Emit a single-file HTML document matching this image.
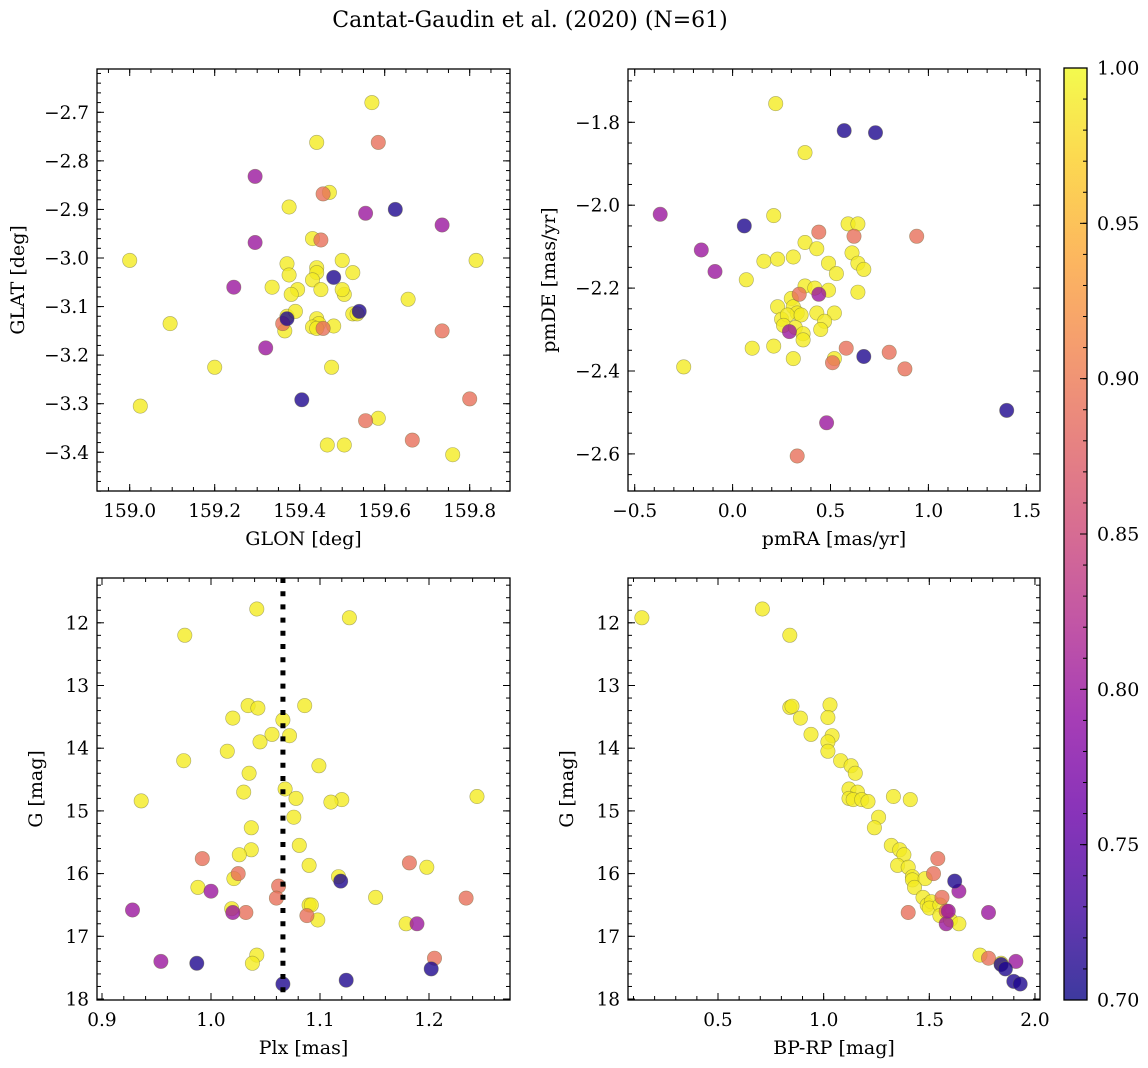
<!DOCTYPE html>
<html><head><meta charset="utf-8">
<style>
html,body{margin:0;padding:0;background:#fff;}
svg{display:block;font-family:"DejaVu Serif","Liberation Serif",serif;}
</style></head>
<body>
<svg id="chart" width="1148" height="1068" viewBox="0 0 1148 1068" xmlns="http://www.w3.org/2000/svg">
<text x="530" y="27" font-size="22" text-anchor="middle">Cantat-Gaudin et al. (2020) (N=61)</text>
</svg>
<script>
// ---- Panel 1: GLON / GLAT ----
const p1Lon = [159.57,159.44,159.47,159.375,159.43,159.00,159.815,159.37,159.44,159.50,159.375,159.44,159.43,159.525,159.335,159.395,159.38,159.45,159.505,159.50,159.655,159.095,159.37,159.39,159.525,159.535,159.44,159.445,159.43,159.44,159.48,159.365,159.20,159.475,159.025,159.585,159.465,159.505,159.76,
 159.585,159.455,159.45,159.36,159.455,159.735,159.80,159.555,159.665,
 159.295,159.295,159.555,159.735,159.245,159.32,
 159.625,159.48,159.54,159.37,159.405];
const p1Lat = [-2.68,-2.762,-2.865,-2.895,-2.96,-3.005,-3.005,-3.012,-3.02,-3.005,-3.035,-3.03,-3.045,-3.03,-3.06,-3.065,-3.075,-3.065,-3.075,-3.065,-3.085,-3.135,-3.12,-3.11,-3.115,-3.115,-3.125,-3.135,-3.142,-3.145,-3.14,-3.15,-3.225,-3.225,-3.305,-3.33,-3.385,-3.385,-3.405,
 -2.762,-2.868,-2.963,-3.135,-3.145,-3.15,-3.29,-3.335,-3.375,
 -2.832,-2.968,-2.908,-2.932,-3.06,-3.185,
 -2.90,-3.04,-3.11,-3.125,-3.292];
const p1Prob = [0.99,0.99,0.99,0.99,0.99,0.99,0.99,0.99,0.99,0.99,0.99,0.99,0.99,0.99,0.99,0.99,0.99,0.99,0.99,0.99,0.99,0.99,0.99,0.99,0.99,0.99,0.99,0.99,0.99,0.99,0.99,0.99,0.99,0.99,0.99,0.99,0.99,0.99,0.99,
 0.89,0.89,0.89,0.89,0.89,0.89,0.89,0.89,0.89,
 0.80,0.80,0.80,0.80,0.80,0.80,
 0.71,0.71,0.71,0.71,0.71];
// ---- Panel 2: pmRA / pmDE ----
const p2Pmra = [0.22,0.37,0.21,0.59,0.64,0.37,0.43,0.16,0.23,0.31,0.61,0.64,0.67,0.49,0.53,0.07,0.37,0.42,0.30,0.49,0.64,0.23,0.31,0.33,0.43,0.52,0.25,0.28,0.35,0.47,0.26,0.32,0.36,0.36,0.45,0.10,0.21,0.31,0.52,-0.25,
 0.34,0.44,0.62,0.94,0.58,0.80,0.88,0.51,0.33,
 -0.37,-0.16,-0.09,0.29,0.44,0.48,
 0.57,0.73,0.06,0.67,1.40];
const p2Pmde = [-1.755,-1.873,-2.025,-2.045,-2.045,-2.09,-2.105,-2.135,-2.13,-2.125,-2.115,-2.14,-2.155,-2.14,-2.165,-2.18,-2.195,-2.2,-2.225,-2.205,-2.21,-2.245,-2.245,-2.26,-2.26,-2.26,-2.275,-2.265,-2.265,-2.28,-2.29,-2.295,-2.31,-2.325,-2.3,-2.345,-2.34,-2.37,-2.37,-2.39,
 -2.215,-2.065,-2.075,-2.075,-2.345,-2.355,-2.395,-2.38,-2.605,
 -2.022,-2.108,-2.16,-2.305,-2.215,-2.525,
 -1.82,-1.825,-2.05,-2.365,-2.495];
const p2Prob = [0.99,0.99,0.99,0.99,0.99,0.99,0.99,0.99,0.99,0.99,0.99,0.99,0.99,0.99,0.99,0.99,0.99,0.99,0.99,0.99,0.99,0.99,0.99,0.99,0.99,0.99,0.99,0.99,0.99,0.99,0.99,0.99,0.99,0.99,0.99,0.99,0.99,0.99,0.99,0.99,
 0.89,0.89,0.89,0.89,0.89,0.89,0.89,0.89,0.89,
 0.80,0.80,0.80,0.80,0.80,0.80,
 0.71,0.71,0.71,0.71,0.71];
// ---- Panel 3: Plx / G ----
const p3Plx = [1.042,1.127,0.976,1.034,1.043,1.086,1.020,1.066,1.072,1.045,1.056,1.015,0.975,1.099,1.035,0.936,1.244,1.068,1.030,1.120,1.110,1.078,1.076,1.037,1.037,1.026,1.081,1.090,0.988,1.151,1.117,1.021,1.198,1.179,1.019,1.090,1.092,1.098,1.042,1.038,
 0.992,1.182,1.025,1.062,1.060,1.234,1.032,1.088,1.205,
 0.928,1.000,1.020,1.189,0.954,
 1.119,0.987,1.124,1.202,1.066];
const p3G = [11.78,11.92,12.2,13.32,13.36,13.32,13.52,13.55,13.8,13.9,13.78,14.05,14.2,14.28,14.4,14.84,14.77,14.65,14.7,14.82,14.86,14.8,15.1,15.27,15.62,15.7,15.55,15.87,16.22,16.38,16.05,16.08,15.9,16.8,16.56,16.5,16.5,16.74,17.3,17.43,
 15.76,15.83,16.0,16.2,16.39,16.39,16.62,16.67,17.35,
 16.58,16.28,16.62,16.8,17.4,
 16.12,17.43,17.7,17.52,17.76];
const p3Prob = [0.99,0.99,0.99,0.99,0.99,0.99,0.99,0.99,0.99,0.99,0.99,0.99,0.99,0.99,0.99,0.99,0.99,0.99,0.99,0.99,0.99,0.99,0.99,0.99,0.99,0.99,0.99,0.99,0.99,0.99,0.99,0.99,0.99,0.99,0.99,0.99,0.99,0.99,0.99,0.99,
 0.89,0.89,0.89,0.89,0.89,0.89,0.89,0.89,0.89,
 0.80,0.80,0.80,0.80,0.80,
 0.71,0.71,0.71,0.71,0.71];
const p3PlxLine = [1.066];
// ---- Panel 4: BP-RP / G ----
const p4Color = [0.14,0.71,0.84,0.84,0.85,0.89,1.03,1.02,0.94,1.04,1.02,1.02,1.08,1.13,1.15,1.12,1.16,1.12,1.14,1.18,1.21,1.33,1.41,1.26,1.24,1.32,1.36,1.38,1.35,1.40,1.42,1.42,1.48,1.43,1.47,1.49,1.51,1.50,1.55,1.55,1.60,1.64,1.74,1.84,
 1.54,1.52,1.40,1.56,1.78,1.58,
 1.64,1.58,1.78,1.59,1.91,
 1.62,1.84,1.86,1.90,1.93];
const p4G = [11.92,11.78,12.2,13.35,13.33,13.52,13.31,13.51,13.78,13.8,13.9,14.05,14.2,14.28,14.4,14.65,14.7,14.8,14.82,14.82,14.85,14.77,14.82,15.1,15.27,15.55,15.62,15.7,15.87,15.9,16.05,16.1,16.08,16.22,16.38,16.5,16.45,16.55,16.5,16.67,16.74,16.8,17.3,17.43,
 15.76,16.0,16.62,16.38,17.35,16.6,
 16.28,16.8,16.62,16.6,17.4,
 16.12,17.45,17.52,17.72,17.76];
const p4Prob = [0.99,0.99,0.99,0.99,0.99,0.99,0.99,0.99,0.99,0.99,0.99,0.99,0.99,0.99,0.99,0.99,0.99,0.99,0.99,0.99,0.99,0.99,0.99,0.99,0.99,0.99,0.99,0.99,0.99,0.99,0.99,0.99,0.99,0.99,0.99,0.99,0.99,0.99,0.99,0.99,0.99,0.99,0.99,0.99,
 0.89,0.89,0.89,0.89,0.89,0.89,
 0.80,0.80,0.80,0.80,0.80,
 0.71,0.71,0.71,0.71,0.71];
// ---- Colorbar ----
const cbarTicks = [0.70,0.75,0.80,0.85,0.90,0.95,1.00];
const cbarRange = [0.70,1.00];

const NS = "http://www.w3.org/2000/svg";
const svg = document.getElementById('chart');
function mk(tag, attrs, parent){
  const e = document.createElementNS(NS, tag);
  for (const k in attrs) e.setAttribute(k, attrs[k]);
  (parent||svg).appendChild(e);
  return e;
}
const plasmaStops = [[0,'#0d0887'],[0.1,'#41049d'],[0.2,'#6a00a8'],[0.3,'#8f0da4'],[0.4,'#b12a90'],[0.5,'#cc4778'],[0.6,'#e16462'],[0.7,'#f2844b'],[0.8,'#fca636'],[0.9,'#fcce25'],[1,'#f0f921']];
function hex2rgb(h){return [parseInt(h.substr(1,2),16),parseInt(h.substr(3,2),16),parseInt(h.substr(5,2),16)];}
function plasma(t){
  t=Math.max(0,Math.min(1,t));
  for(let i=1;i<plasmaStops.length;i++){
    if(t<=plasmaStops[i][0]){
      const a=plasmaStops[i-1],b=plasmaStops[i];
      const f=(t-a[0])/(b[0]-a[0]);
      const ca=hex2rgb(a[1]),cb=hex2rgb(b[1]);
      return 'rgb('+ca.map((v,j)=>Math.round(v+(cb[j]-v)*f)).join(',')+')';
    }
  }
  return plasmaStops[plasmaStops.length-1][1];
}
function norm(p){return (p-cbarRange[0])/(cbarRange[1]-cbarRange[0]);}
function fmt(v,d){return v.toFixed(d).replace('-','\u2212');}

function panel(cfg){
  const g = mk('g',{});
  
  
  const L=cfg.box[0],T=cfg.box[1],R=cfg.box[2],B=cfg.box[3];
  const sx = v => cfg.px0 + (v-cfg.x0)*cfg.pxs;
  const sy = v => cfg.py0 + (v-cfg.y0)*cfg.pys;
  const clip = mk('clipPath',{id:cfg.name+'-clip'},g);
  mk('rect',{x:L,y:T,width:R-L,height:B-T},clip);
  const marks = mk('g',{'clip-path':'url(#'+cfg.name+'-clip)'},g);
  
  
  for(let i=0;i<cfg.xs.length;i++){
    const c = mk('circle',{cx:sx(cfg.xs[i]).toFixed(1),cy:sy(cfg.ys[i]).toFixed(1),r:7.2,fill:plasma(norm(cfg.ps[i])),'fill-opacity':0.8,stroke:'#6b6b3a','stroke-opacity':0.55,'stroke-width':0.6},marks);
    
    
  }
  if(cfg.vline){
    for(const v of cfg.vline){
      const ln = mk('line',{x1:sx(v),x2:sx(v),y1:T,y2:B,stroke:'#000','stroke-width':5,'stroke-dasharray':'5,8.2'},g);
      
      
    }
  }
  const tg = mk('g',{stroke:'#000','stroke-width':1},g);
  function ticksX(step,len,labels,dec){
    const start=Math.ceil((cfg.xmin)/step-1e-6)*step;
    for(let v=start; v<=cfg.xmax+1e-9; v+=step){
      const x=sx(v);
      if(x<L-0.5||x>R+0.5) continue;
      mk('line',{x1:x,x2:x,y1:B,y2:B-len},tg);
      mk('line',{x1:x,x2:x,y1:T,y2:T+len},tg);
      if(labels){
        const t=mk('text',{x:x,y:B+26,'font-size':18.5,'text-anchor':'middle',stroke:'none'},g);
        t.textContent=fmt(Math.round(v/step)*step,dec);
        
        
      }
    }
  }
  function ticksY(step,len,labels,dec){
    const lo=Math.min(cfg.ymin,cfg.ymax),hi=Math.max(cfg.ymin,cfg.ymax);
    const start=Math.ceil(lo/step-1e-6)*step;
    for(let v=start; v<=hi+1e-9; v+=step){
      const y=sy(v);
      if(y<T-0.5||y>B+0.5) continue;
      mk('line',{x1:L,x2:L+len,y1:y,y2:y},tg);
      mk('line',{x1:R,x2:R-len,y1:y,y2:y},tg);
      if(labels){
        const t=mk('text',{x:L-8,y:y+6.5,'font-size':18.5,'text-anchor':'end',stroke:'none'},g);
        t.textContent=fmt(Math.round(v/step)*step,dec);
        
        
      }
    }
  }
  ticksX(cfg.xminor,4,false,0); ticksX(cfg.xmajor,7,true,cfg.xdec);
  ticksY(cfg.yminor,4,false,0); ticksY(cfg.ymajor,7,true,cfg.ydec);
  const fr = mk('rect',{x:L,y:T,width:R-L,height:B-T,fill:'none',stroke:'#000','stroke-width':1.3},g);
  
  
  const xl = mk('text',{x:(L+R)/2,y:B+54,'font-size':19,'text-anchor':'middle'},g);
  xl.textContent = cfg.xlabel;
  
  
  const yx=L-cfg.ylabOff, ymid=(T+B)/2;
  const yl = mk('text',{x:yx,y:ymid,'font-size':19,'text-anchor':'middle',transform:'rotate(-90 '+yx+' '+ymid+')'},g);
  yl.textContent = cfg.ylabel;
  
  
}

panel({name:'glon-glat-panel',box:[97,69,510,491],xs:p1Lon,ys:p1Lat,ps:p1Prob,
  x0:159.0,px0:129.7,pxs:425,y0:-2.7,py0:112.3,pys:-485.7,
  xmin:158.92,xmax:159.9,ymin:-3.49,ymax:-2.6,xmajor:0.2,xminor:0.05,ymajor:0.1,yminor:0.02,xdec:1,ydec:1,
  xlabel:'GLON [deg]',ylabel:'GLAT [deg]',ylabOff:73});
panel({name:'proper-motion-panel',box:[628,69,1040,491],xs:p2Pmra,ys:p2Pmde,ps:p2Prob,
  x0:-0.5,px0:634.7,pxs:195.8,y0:-1.8,py0:122.3,pys:-414.5,
  xmin:-0.55,xmax:1.6,ymin:-2.72,ymax:-1.55,xmajor:0.5,xminor:0.1,ymajor:0.2,yminor:0.05,xdec:1,ydec:1,
  xlabel:'pmRA [mas/yr]',ylabel:'pmDE [mas/yr]',ylabOff:73});
panel({name:'parallax-magnitude-panel',box:[97,578,510,1000],xs:p3Plx,ys:p3G,ps:p3Prob,vline:p3PlxLine,
  x0:0.9,px0:102,pxs:1090,y0:12,py0:622.8,pys:62.7,
  xmin:0.89,xmax:1.28,ymin:11.2,ymax:18.05,xmajor:0.1,xminor:0.02,ymajor:1,yminor:0.2,xdec:1,ydec:0,
  xlabel:'Plx [mas]',ylabel:'G [mag]',ylabOff:55});
panel({name:'color-magnitude-panel',box:[628,578,1040,1000],xs:p4Color,ys:p4G,ps:p4Prob,
  x0:0.5,px0:718,pxs:211.3,y0:12,py0:622.8,pys:62.7,
  xmin:0.05,xmax:2.05,ymin:11.2,ymax:18.05,xmajor:0.5,xminor:0.1,ymajor:1,yminor:0.2,xdec:1,ydec:0,
  xlabel:'BP-RP [mag]',ylabel:'G [mag]',ylabOff:55});

(function(){
  const L=1064,R=1087,T=68,B=1000;
  const cg = mk('g',{});
  
  
  const defs = mk('defs',{},cg);
  const lg = mk('linearGradient',{id:'cbgrad',x1:0,y1:1,x2:0,y2:0},defs);
  for(const s of plasmaStops){ mk('stop',{offset:s[0],'stop-color':s[1]},lg); }
  mk('rect',{x:L,y:T,width:R-L,height:B-T,fill:'url(#cbgrad)','fill-opacity':0.8},cg);
  mk('rect',{x:L,y:T,width:R-L,height:B-T,fill:'none',stroke:'#000','stroke-width':1.3},cg);
  const sy = v => B - (v-cbarRange[0])/(cbarRange[1]-cbarRange[0])*(B-T);
  for(let v=cbarRange[0]; v<=cbarRange[1]+1e-9; v+=0.01){
    mk('line',{x1:R,x2:R-4,y1:sy(v),y2:sy(v),stroke:'#000','stroke-width':1},cg);
  }
  for(const v of cbarTicks){
    mk('line',{x1:R,x2:R-7,y1:sy(v),y2:sy(v),stroke:'#000','stroke-width':1},cg);
    const t = mk('text',{x:1097,y:sy(v)+6.5,'font-size':19},cg);
    t.textContent = v.toFixed(2);
    
    
  }
})();
</script>
</body></html>
